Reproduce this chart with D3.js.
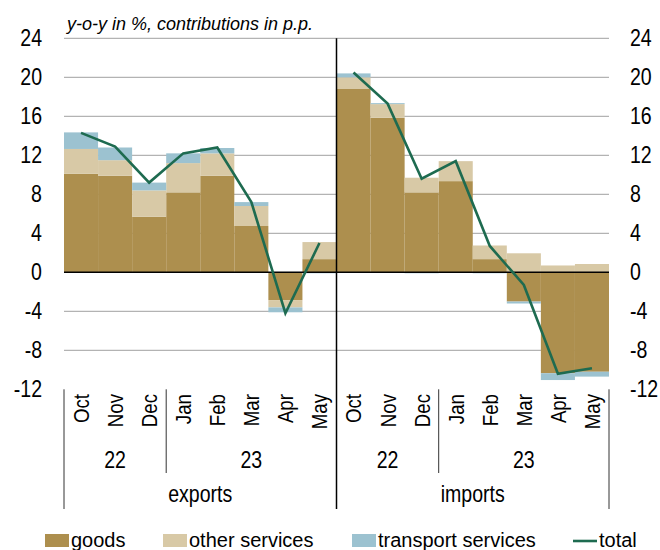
<!DOCTYPE html>
<meta charset="utf-8">
<body style="margin:0">
<script src="https://d3js.org/d3.v7.min.js"></script>
<script>

// chart values
var months = ["Oct", "Nov", "Dec", "Jan", "Feb", "Mar", "Apr", "May"];
var years = [{label: "22", n: 3}, {label: "23", n: 5}];
var panels = ["exports", "imports"];
var yTicks = [-12, -8, -4, 0, 4, 8, 12, 16, 20, 24];

var expGoods     = [10.1, 9.9, 5.7, 8.2, 9.9, 4.75, -2.85, 1.35];
var expOther     = [2.55, 1.6, 2.7, 3.0, 2.3, 2.05, -0.75, 1.75];
var expTransport = [1.7, 1.3, 0.8, 1.0, 0.55, 0.4, -0.5, -0.1];
var expTotal     = [14.3, 12.9, 9.2, 12.2, 12.8, 7.2, -4.2, 3.0];

var impGoods     = [18.8, 15.85, 8.2, 9.35, 1.35, -3.0, -10.35, -10.2];
var impOther     = [1.2, 1.4, 1.5, 2.05, 1.4, 1.95, 0.7, 0.85];
var impTransport = [0.4, 0.1, -0.1, 0, -0.1, -0.2, -0.7, -0.5];
var impTotal     = [20.5, 17.3, 9.6, 11.4, 2.7, -1.3, -10.4, -9.85];

var keys = ["goods", "other", "transport"];
var labels = {goods: "goods", other: "other services", transport: "transport services"};
var colors = {goods: "#ad8f4e", other: "#d8c9a6", transport: "#9cc2d0"};
var lineColor = "#1e6b50";

// build rows for the stack
var data = [];
months.forEach(function(m, i) {
  data.push({id: "exports-" + i, panel: "exports", month: m, goods: expGoods[i], other: expOther[i], transport: expTransport[i], total: expTotal[i]});
});
months.forEach(function(m, i) {
  data.push({id: "imports-" + i, panel: "imports", month: m, goods: impGoods[i], other: impOther[i], transport: impTransport[i], total: impTotal[i]});
});

// note: "top" is taken by window.top, so use other names
var plotLeft = 64, plotRight = 609, plotTop = 38.3, plotBottom = 389.3;
var font = "'Liberation Sans', Arial, sans-serif";
var squeeze = 0.85; // axis text in the original is a narrow face

var svg = d3.select("body").append("svg")
    .attr("width", 660)
    .attr("height", 550)
    .style("font-family", font);

var x = d3.scaleBand()
    .domain(data.map(function(d) { return d.id; }))
    .range([plotLeft, plotRight])
    .padding(0);

var y = d3.scaleLinear()
    .domain([-12, 24])
    .range([plotBottom, plotTop]);

// gridlines
svg.append("g").selectAll("line")
    .data(yTicks.filter(function(t) { return t !== 0 && t !== -12; }))
  .enter().append("line")
    .attr("x1", plotLeft).attr("x2", plotRight)
    .attr("y1", function(d) { return y(d); })
    .attr("y2", function(d) { return y(d); })
    .attr("stroke", "#b3b3b3")
    .attr("stroke-width", 1.2);

// stacked bars
var series = d3.stack()
    .keys(keys)
    .offset(d3.stackOffsetDiverging)(data);

svg.append("g").selectAll("g")
    .data(series)
  .enter().append("g")
    .attr("fill", function(d) { return colors[d.key]; })
  .selectAll("rect")
    .data(function(d) { return d; })
  .enter().append("rect")
    .attr("x", function(d) { return x(d.data.id); })
    .attr("width", x.bandwidth())
    .attr("y", function(d) { return y(Math.max(d[0], d[1])); })
    .attr("height", function(d) { return Math.abs(y(d[0]) - y(d[1])); });

// zero line
svg.append("line")
    .attr("x1", plotLeft).attr("x2", plotRight)
    .attr("y1", y(0)).attr("y2", y(0))
    .attr("stroke", "#000")
    .attr("stroke-width", 1.5);

// total lines, one per panel
var line = d3.line()
    .x(function(d) { return x(d.id) + x.bandwidth() / 2; })
    .y(function(d) { return y(d.total); });

panels.forEach(function(p) {
  svg.append("path")
      .datum(data.filter(function(d) { return d.panel === p; }))
      .attr("fill", "none")
      .attr("stroke", lineColor)
      .attr("stroke-width", 2.6)
      .attr("d", line);
});

// divider between panels
var mid = x("imports-0");
svg.append("line")
    .attr("x1", mid).attr("x2", mid)
    .attr("y1", plotTop).attr("y2", 509)
    .attr("stroke", "#000")
    .attr("stroke-width", 1.5);

// y axis labels both sides
[{xPos: 42, anchor: "end"}, {xPos: 630, anchor: "start"}].forEach(function(side) {
  svg.append("g").selectAll("text")
      .data(yTicks)
    .enter().append("text")
      .attr("transform", function(d) {
        return "translate(" + side.xPos + "," + y(d) + ") scale(" + squeeze + ",1)";
      })
      .attr("dy", "0.35em")
      .attr("text-anchor", side.anchor)
      .attr("font-size", 23)
      .text(function(d) { return d; });
});

// title
svg.append("text")
    .attr("x", 67)
    .attr("y", 30)
    .attr("font-size", 18)
    .attr("font-style", "italic")
    .text("y-o-y in %, contributions in p.p.");

// category axis: months
svg.append("g").selectAll("text")
    .data(data)
  .enter().append("text")
    .attr("transform", function(d) {
      return "translate(" + (x(d.id) + x.bandwidth() / 2) + ",394) rotate(-90) scale(" + squeeze + ",1)";
    })
    .attr("dy", "0.36em")
    .attr("text-anchor", "end")
    .attr("font-size", 22)
    .text(function(d) { return d.month; });

// years and panel labels
var axisG = svg.append("g");
panels.forEach(function(p) {
  var start = 0;
  years.forEach(function(yr) {
    var x0 = x(p + "-" + start);
    var x1 = x(p + "-" + (start + yr.n - 1)) + x.bandwidth();
    axisG.append("text")
        .attr("transform", "translate(" + ((x0 + x1) / 2) + ",468) scale(" + squeeze + ",1)")
        .attr("text-anchor", "middle")
        .attr("font-size", 23)
        .text(yr.label);
    if (start > 0) {
      axisG.append("line")
          .attr("x1", x0).attr("x2", x0)
          .attr("y1", plotBottom).attr("y2", 473)
          .attr("stroke", "#333");
    }
    start += yr.n;
  });
  var px0 = x(p + "-0");
  var px1 = x(p + "-" + (months.length - 1)) + x.bandwidth();
  axisG.append("text")
      .attr("transform", "translate(" + ((px0 + px1) / 2) + ",502) scale(" + squeeze + ",1)")
      .attr("text-anchor", "middle")
      .attr("font-size", 23)
      .text(p);
});
[plotLeft, plotRight].forEach(function(xx) {
  axisG.append("line")
      .attr("x1", xx).attr("x2", xx)
      .attr("y1", plotBottom).attr("y2", 509)
      .attr("stroke", "#333");
});

// legend
var legendPos = [45, 163, 352, 573];
var legend = svg.append("g");
keys.forEach(function(k, i) {
  legend.append("rect")
      .attr("x", legendPos[i]).attr("y", 534)
      .attr("width", 24).attr("height", 13)
      .attr("fill", colors[k]);
  legend.append("text")
      .attr("x", legendPos[i] + 26).attr("y", 547)
      .attr("font-size", 20)
      .text(labels[k]);
});
legend.append("line")
    .attr("x1", legendPos[3]).attr("x2", legendPos[3] + 24)
    .attr("y1", 541).attr("y2", 541)
    .attr("stroke", lineColor)
    .attr("stroke-width", 2.6);
legend.append("text")
    .attr("x", legendPos[3] + 26).attr("y", 547)
    .attr("font-size", 20)
    .text("total");

</script>
</body>
